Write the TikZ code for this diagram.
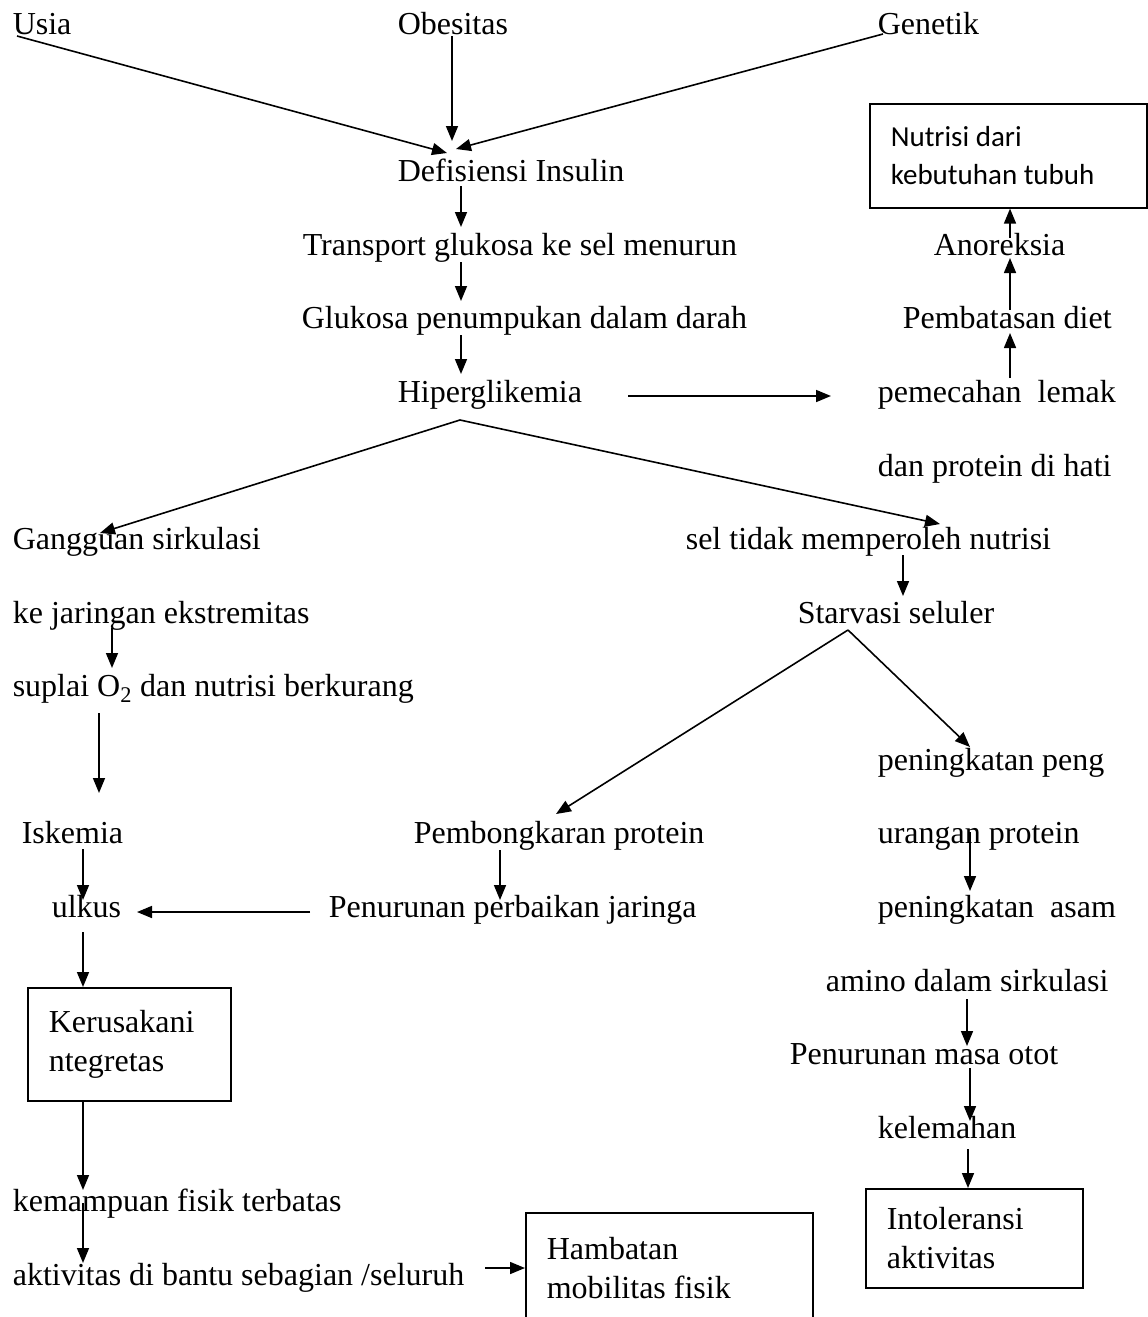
\documentclass[tikz,border=0pt]{standalone}
\usepackage{fontspec}
\setmainfont{Liberation Serif}
\newfontfamily\calibrifont{Carlito}
\usepackage{tikz}
\usetikzlibrary{arrows.meta, positioning, calc}

\begin{document}
\begin{tikzpicture}[x=1pt, y=-1pt, >={Triangle[length=15pt, width=12pt]},
      line width=1.6pt,
      every node/.style={font=\fontsize{32}{39}\selectfont},
      txt/.style={anchor=base west, inner sep=0pt},
      kotak/.style={draw, anchor=north west, align=flush left, inner xsep=21pt,
                    inner ysep=0pt}]

    \path[use as bounding box, fill=white] (0,0) rectangle (1148,1317);
    \clip (0,0) rectangle (1148,1317);

    % penyebab
    \node[txt] (usia) at (12,34) {Usia};
    \node[txt] (obes) at (397,34) {Obesitas};
    \node[txt] (gen) at (877,34) {Genetik};

    % jalur tengah
    \node[txt] (defis) at (397,181) {Defisiensi Insulin};
    \node[txt] (trans) at (302,255) {Transport glukosa ke sel menurun};
    \node[txt] (gluk) at (301,328) {Glukosa penumpukan dalam darah};
    \node[txt] (hiper) at (397,402) {Hiperglikemia};

    % jalur kanan atas
    \node[kotak, text width=235pt, minimum height=104pt,
          font=\calibrifont\fontsize{29}{38}\selectfont] (nutbox) at (869,103)
          {Nutrisi dari\\kebutuhan tubuh};
    \node[txt] (anor) at (933,255) {Anoreksia};
    \node[txt] (diet) at (902,328) {Pembatasan diet};
    \node[txt] (lemak) at (877,402) {pemecahan\ \ lemak};
    \node[txt] (hati) at (877,476) {dan protein di hati};

    % jalur kiri
    \node[txt] (gang) at (12,549) {Gangguan sirkulasi};
    \node[txt] (jar) at (12,623) {ke jaringan ekstremitas};
    \node[txt] (supl) at (12,696) {suplai O\textsubscript{2} dan nutrisi berkurang};
    \node[txt] (isk) at (21,843) {Iskemia};
    \node[txt] (ulkus) at (51,917) {ulkus};
    \node[kotak, text width=161pt, minimum height=113pt] (kerbox) at (27,987)
          {Kerusakani\\ntegretas};
    \node[txt] (kemam) at (12,1211) {kemampuan fisik terbatas};
    \node[txt] (aktiv) at (12,1285) {aktivitas di bantu sebagian /seluruh};
    \node[kotak, text width=245pt, minimum height=110pt] (hambox) at (525,1212)
          {Hambatan\\mobilitas fisik};

    % jalur kanan bawah
    \node[txt] (sel) at (685,549) {sel tidak memperoleh nutrisi};
    \node[txt] (starv) at (797,623) {Starvasi seluler};
    \node[txt] (peng) at (877,770) {peningkatan peng};
    \node[txt] (bongk) at (413,843) {Pembongkaran protein};
    \node[txt] (uran) at (877,843) {urangan protein};
    \node[txt] (penur) at (328,917) {Penurunan perbaikan jaringa};
    \node[txt] (asam) at (877,917) {peningkatan\ \ asam};
    \node[txt] (amino) at (825,991) {amino dalam sirkulasi};
    \node[txt] (otot) at (789,1064) {Penurunan masa otot};
    \node[txt] (lemah) at (877,1138) {kelemahan};
    \node[kotak, text width=175pt, minimum height=99pt] (intbox) at (865,1188)
          {Intoleransi\\aktivitas};

    \draw[->] ($(usia.base west)+(5,2)$) -- ($(defis.base west)+(50,-28)$);
    \draw[->] ($(obes.base west)+(55,2)$) -- ($(defis.base west)+(55,-40)$);
    \draw[->] ($(gen.base west)+(6,0)$) -- ($(defis.base west)+(59,-32)$);
    \draw[->] ($(defis.base west)+(64,5)$) -- ($(trans.base west)+(159,-28)$);
    \draw[->] ($(trans.base west)+(159,7)$) -- ($(gluk.base west)+(160,-27)$);
    \draw[->] ($(gluk.base west)+(160,7)$) -- ($(hiper.base west)+(64,-28)$);
    \draw[->] ($(hiper.base west)+(231,-6)$) -- ($(lemak.base west)+(-46,-6)$);
    \draw[->] ($(lemak.base west)+(133,-24)$) -- ($(diet.base west)+(108,5)$);
    \draw[->] ($(diet.base west)+(108,-18)$) -- ($(anor.base west)+(77,3)$);
    \draw[->] ($(anor.base west)+(77,-17)$) -- ($(nutbox.south west)+(141,0)$);
    \draw[->] ($(hiper.base west)+(63,18)$) -- ($(gang.base west)+(88,-16)$);
    \draw[->] ($(hiper.base west)+(63,18)$) -- ($(sel.base west)+(255,-25)$);
    \draw[->] ($(jar.base west)+(100,5)$) -- ($(supl.base west)+(100,-28)$);
    \draw[->] ($(supl.base west)+(87,17)$) -- ($(isk.base west)+(78,-50)$);
    \draw[->] ($(isk.base west)+(62,6)$) -- ($(ulkus.base west)+(32,-17)$);
    \draw[->] ($(penur.base west)+(-18,-5)$) -- ($(ulkus.base west)+(86,-5)$);
    \draw[->] ($(ulkus.base west)+(32,15)$) -- ($(kerbox.north west)+(56,0)$);
    \draw[->] ($(kerbox.south west)+(56,0)$) -- ($(kemam.base west)+(71,-21)$);
    \draw[->] ($(kemam.base west)+(71,-8)$) -- ($(aktiv.base west)+(71,-22)$);
    \draw[->] ($(aktiv.base west)+(473,-17)$) -- ($(hambox.north west)+(0,56)$);
    \draw[->] ($(sel.base west)+(218,6)$) -- ($(starv.base west)+(106,-27)$);
    \draw[->] ($(starv.base west)+(51,7)$) -- ($(bongk.base west)+(143,-29)$);
    \draw[->] ($(starv.base west)+(51,7)$) -- ($(peng.base west)+(93,-23)$);
    \draw[->] ($(bongk.base west)+(87,7)$) -- ($(penur.base west)+(172,-17)$);
    \draw[->] ($(uran.base west)+(93,-11)$) -- ($(asam.base west)+(93,-26)$);
    \draw[->] ($(amino.base west)+(142,8)$) -- ($(otot.base west)+(178,-18)$);
    \draw[->] ($(otot.base west)+(181,4)$) -- ($(lemah.base west)+(93,-17)$);
    \draw[->] ($(lemah.base west)+(91,11)$) -- ($(intbox.north west)+(103,0)$);
  \end{tikzpicture}
\end{document}
